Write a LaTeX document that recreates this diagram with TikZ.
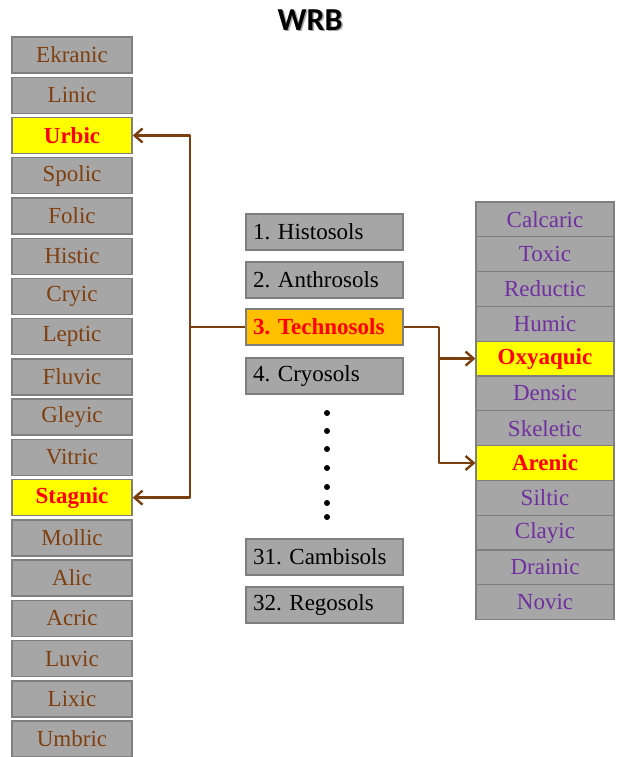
\documentclass[tikz,border=0pt]{standalone}
\usepackage{fontspec}
\setmainfont{Liberation Serif}
\newfontfamily\titlefont{Carlito}
\usetikzlibrary{arrows.meta}
\frenchspacing
\definecolor{boxgray}{HTML}{A6A6A6}
\definecolor{boxline}{HTML}{7F7F7F}
\definecolor{brownt}{HTML}{7F3F0F}
\definecolor{purplet}{HTML}{7030A0}
\definecolor{arrowc}{HTML}{7A3F0E}
\definecolor{hlyellow}{HTML}{FFFF00}
\definecolor{hlorange}{HTML}{FFC000}
\tikzset{
  lbox/.style={draw=boxline, line width=1.4pt, fill=boxgray, minimum width=120pt, minimum height=36pt, inner sep=0pt, text=brownt, font=\fontsize{23}{23}\selectfont},
  rbox/.style={draw=boxline, line width=1.2pt, fill=boxgray, minimum width=138pt, minimum height=34.8pt, inner sep=0pt, text=purplet, font=\fontsize{23}{23}\selectfont},
  mbox/.style={draw=boxline, line width=1.4pt, fill=boxgray, minimum width=157pt, minimum height=36pt, text width=143pt, inner xsep=7pt, inner ysep=0pt, align=left, text=black, font=\fontsize{23}{23}\selectfont},
  hl/.style={fill=hlyellow, text=red, font=\fontsize{23}{23}\selectfont\bfseries},
  hlm/.style={fill=hlorange, text=red, font=\fontsize{23}{23}\selectfont\bfseries},
  conn/.style={draw=arrowc, line width=2.6pt, line join=round},
  arr/.style={conn, -{Straight Barb[length=8pt,width=14pt,line width=2.4pt]}},
  dotmark/.style={circle, fill=black, inner sep=0pt, minimum size=6pt},
}
\begin{document}
\begin{tikzpicture}[x=1pt,y=-1pt]
\useasboundingbox (0,0) rectangle (617,757);
% title
\node[text=black!35, font=\titlefont\bfseries\fontsize{32}{32}\selectfont] at (311.5,21.5) {WRB};
\node (title) [font=\titlefont\bfseries\fontsize{32}{32}\selectfont] at (310,20) {WRB};
% left column
\foreach \t [count=\i from 0] in {Ekranic,Linic,Urbic,Spolic,Folic,Histic,Cryic,Leptic,Fluvic,Gleyic,Vitric,Stagnic,Mollic,Alic,Acric,Luvic,Lixic,Umbric}{
  \ifnum\i=2
    \node[lbox,hl] (L\i) at (72,{55+40.24*\i}) {\t};
  \else\ifnum\i=11
    \node[lbox,hl] (L\i) at (72,{55+40.24*\i}) {\t};
  \else
    \node[lbox] (L\i) at (72,{55+40.24*\i}) {\t};
  \fi\fi
}
% middle column
\node[mbox] (m1) at (324.5,232) {1. Histosols};
\node[mbox] (m2) at (324.5,280) {2. Anthrosols};
\node[mbox,hlm] (m3) at (324.5,327) {3. Technosols};
\node[mbox] (m4) at (324.5,376) {4. Cryosols};
\node[mbox] (m31) at (324.5,557) {31. Cambisols};
\node[mbox] (m32) at (324.5,605) {32. Regosols};
% dots
\foreach \y [count=\k] in {413,431,449,468,487,503,517}{
  \node[dotmark] (d\k) at (327,\y) {};
}
% right column
\foreach \t [count=\i from 0] in {Calcaric,Toxic,Reductic,Humic,Oxyaquic,Densic,Skeletic,Arenic,Siltic,Clayic,Drainic,Novic}{
  \ifnum\i=4
    \node[rbox,hl] (R\i) at (545,{219.4+34.8*\i}) {\t};
  \else\ifnum\i=7
    \node[rbox,hl] (R\i) at (545,{219.4+34.8*\i}) {\t};
  \else
    \node[rbox] (R\i) at (545,{219.4+34.8*\i}) {\t};
  \fi\fi
}
% connectors
\coordinate (jl) at (190,327);
\coordinate (jr) at (439,327);
\draw[conn] (m3.west) -- (jl);
\draw[arr] (jl) |- (L2.east);
\draw[arr] (jl) |- (L11.east);
\draw[conn] (m3.east) -- (jr);
\draw[arr] (jr) |- (R4.west);
\draw[arr] (jr) |- (R7.west);
\end{tikzpicture}
\end{document}
